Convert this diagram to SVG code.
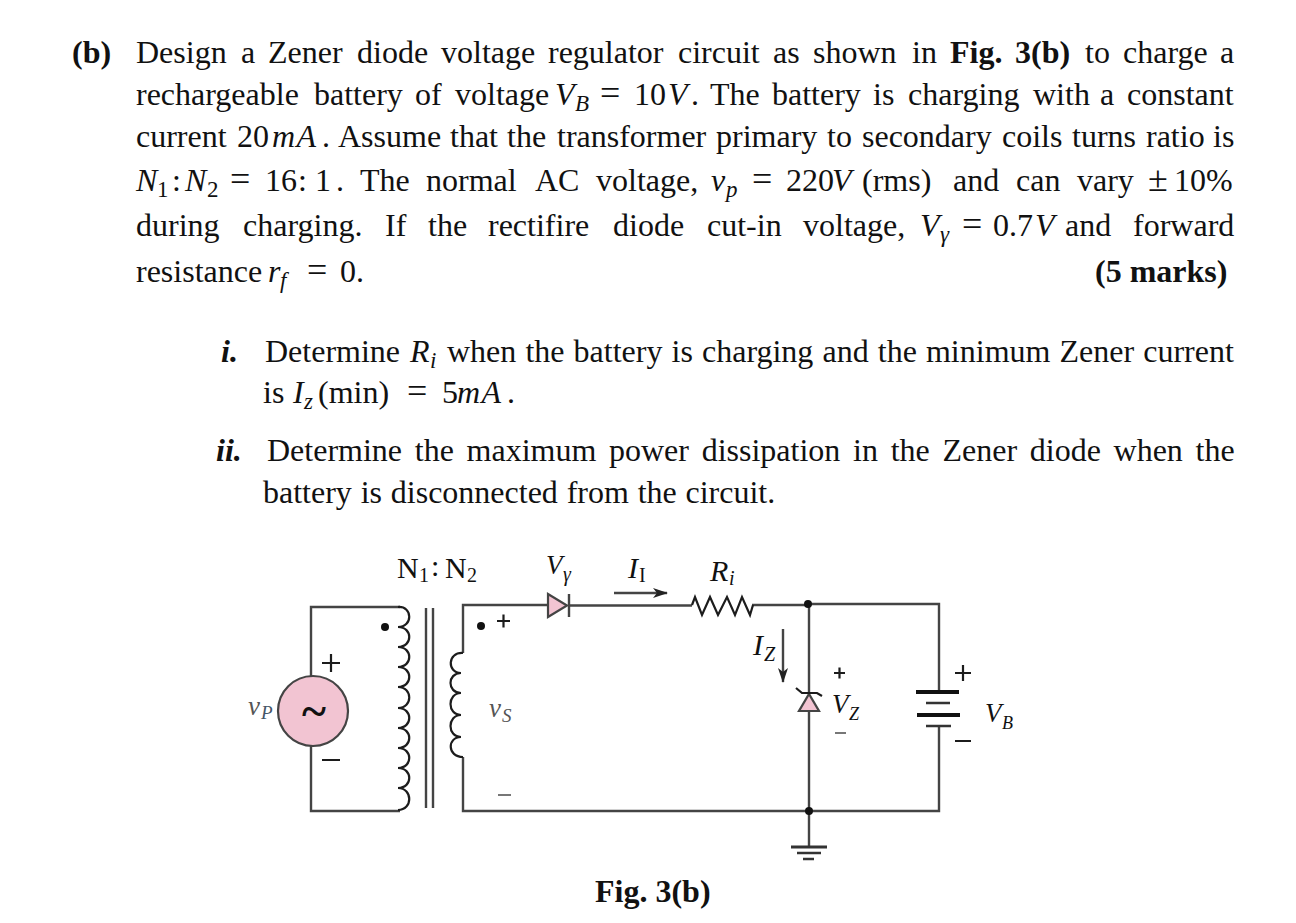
<svg xmlns="http://www.w3.org/2000/svg" width="1296" height="923" viewBox="0 0 1296 923">
<style>
text{font-family:"Liberation Serif","Times New Roman",serif;fill:#111}
.t{font-size:32px}
.b{font-weight:bold}
.i{font-style:italic}
.s{font-size:23px}
.l{font-size:30px}
.sm{font-size:20px}
.eq{font-size:36px}
.w{fill:none;stroke:#444;stroke-width:2.4}
.k{fill:none;stroke:#1c1c1c;stroke-width:2.2}
.p{fill:#f2c4d2;stroke:#444;stroke-width:2.2}
.d{fill:#111}
</style>
<defs>
<marker id="a" markerWidth="15" markerHeight="10" refX="14" refY="5" orient="auto" markerUnits="userSpaceOnUse"><path d="M0 0L15 5L0 10L4 5Z" fill="#222"/></marker>
</defs>
<rect width="1296" height="923" fill="#fff"/>
<g id="question" class="t">
<text y="63"><tspan x="72" class="b">(b)</tspan><tspan x="136">Design</tspan><tspan x="241">a</tspan><tspan x="268">Zener</tspan><tspan x="357">diode</tspan><tspan x="441">voltage</tspan><tspan x="548">regulator</tspan><tspan x="678">circuit</tspan><tspan x="773">as</tspan><tspan x="813">shown</tspan><tspan x="912">in</tspan><tspan x="950" class="b">Fig.</tspan><tspan x="1015" class="b">3(b)</tspan><tspan x="1085">to</tspan><tspan x="1123">charge</tspan><tspan x="1220">a</tspan></text>
<text y="105"><tspan x="136">rechargeable</tspan><tspan x="314">battery</tspan><tspan x="415">of</tspan><tspan x="455">voltage</tspan><tspan x="555" class="i">V</tspan><tspan x="575" y="111" class="s i">B</tspan><tspan x="600" y="105" class="eq">=</tspan><tspan x="634" y="105">10</tspan><tspan x="668" class="i">V</tspan><tspan x="691">.</tspan><tspan x="710">The</tspan><tspan x="772">battery</tspan><tspan x="873">is</tspan><tspan x="908">charging</tspan><tspan x="1033">with</tspan><tspan x="1100">a</tspan><tspan x="1127">constant</tspan></text>
<text y="147"><tspan x="136">current</tspan><tspan x="237">20</tspan><tspan x="272" class="i" letter-spacing="1.500">mA</tspan><tspan x="322">.</tspan><tspan x="338">Assume</tspan><tspan x="450">that</tspan><tspan x="507">the</tspan><tspan x="557">transformer</tspan><tspan x="716">primary</tspan><tspan x="827">to</tspan><tspan x="862">secondary</tspan><tspan x="1002">coils</tspan><tspan x="1072">turns</tspan><tspan x="1146">ratio</tspan><tspan x="1213">is</tspan></text>
<text y="191"><tspan x="136" class="i">N</tspan><tspan x="157" y="197" class="s">1</tspan><tspan x="172" y="191">:</tspan><tspan x="185" class="i">N</tspan><tspan x="207" y="197" class="s">2</tspan><tspan x="230" y="191" class="eq">=</tspan><tspan x="265" y="191">16</tspan><tspan x="298">:</tspan><tspan x="315">1</tspan><tspan x="336">.</tspan><tspan x="360">The</tspan><tspan x="426">normal</tspan><tspan x="535">AC</tspan><tspan x="596">voltage,</tspan><tspan x="711" class="i">v</tspan><tspan x="726" y="197" class="s i">p</tspan><tspan x="752" y="191" class="eq">=</tspan><tspan x="786" y="191">220</tspan><tspan x="832" class="i">V</tspan><tspan x="862">(rms)</tspan><tspan x="953">and</tspan><tspan x="1016">can</tspan><tspan x="1077">vary</tspan><tspan x="1148" class="eq">±</tspan><tspan x="1174" y="191">10%</tspan></text>
<text y="236"><tspan x="136">during</tspan><tspan x="243">charging.</tspan><tspan x="385">If</tspan><tspan x="428">the</tspan><tspan x="488">rectifire</tspan><tspan x="613">diode</tspan><tspan x="707">cut-in</tspan><tspan x="803">voltage,</tspan><tspan x="920" class="i">V</tspan><tspan x="940" y="242" class="s i">γ</tspan><tspan x="962" y="236" class="eq">=</tspan><tspan x="993" y="236">0.7</tspan><tspan x="1035" class="i">V</tspan><tspan x="1065">and</tspan><tspan x="1133">forward</tspan></text>
<text y="282"><tspan x="136">resistance</tspan><tspan x="268" class="i">r</tspan><tspan x="280" y="288" class="s i">f</tspan><tspan x="307" y="282" class="eq">=</tspan><tspan x="340" y="282">0.</tspan><tspan x="1095" class="b">(5 marks)</tspan></text>
<text y="362"><tspan x="221" class="b i">i.</tspan><tspan x="265">Determine</tspan><tspan x="410" class="i">R</tspan><tspan x="430" y="368" class="s i">i</tspan><tspan x="447" y="362" word-spacing="1.100">when the battery is charging and the minimum Zener current</tspan></text>
<text y="403"><tspan x="263">is</tspan><tspan x="293" class="i">I</tspan><tspan x="304" y="409" class="s i">z</tspan><tspan x="318" y="403">(min)</tspan><tspan x="407" class="eq">=</tspan><tspan x="442" y="403">5</tspan><tspan x="457" class="i" letter-spacing="1.500">mA</tspan><tspan x="507">.</tspan></text>
<text y="461"><tspan x="216" class="b i">ii.</tspan><tspan x="267" word-spacing="4.700">Determine the maximum power dissipation in the Zener diode when the</tspan></text>
<text x="263" y="503" word-spacing="0.800">battery is disconnected from the circuit.</text>
</g>
<g id="connectors">
<path class="w" d="M400 607H311V676M311 746V811H400"/>
<path class="w" d="M426 608V808M433 608V808" stroke-width="2"/>
<path class="w" d="M548 605H463V653M463 757V811H939V726M939 692V604H808M570 605.500H692M752 605H808M809 604V694M809 711V847"/>
<path class="k" d="M398 607C413 606 413 627 398 627C413 627 413 647 398 647C413 647 413 667 398 667C413 667 413 687 398 687C413 687 413 708 398 708C413 708 413 728 398 728C413 728 413 748 398 748C413 748 413 768 398 768C413 768 413 788 398 788C413 788 413 810 398 810"/>
<path class="k" d="M463 653C447 652 447 673 461 673C447 673 447 693 461 693C447 693 447 715 461 715C447 715 447 737 461 737C447 737 447 757 463 757"/>
<path class="k" d="M692 605L695 597L702 615L710 597L718 615L727 597L735 615L742 597L750 615L753 605"/>
<path class="w" d="M614 593H667" marker-end="url(#a)" stroke-width="1.800"/>
<path class="w" d="M783 629V682" marker-end="url(#a)" stroke-width="1.800"/>
</g>
<g id="source-vp"><circle class="p" cx="313" cy="711" r="35" stroke="#333"/>
<text x="314" y="727" text-anchor="middle" font-size="46" class="b">~</text>
<text y="715"><tspan x="248" class="i" font-size="27" style="fill:#555">v</tspan><tspan x="261" y="719" class="i" font-size="19" style="fill:#456">P</tspan></text>
<path class="k" d="M322 663H340M331 654V672M322 760H340" stroke="#333"/></g>
<g id="transformer-label"><text y="578" class="l"><tspan x="397">N</tspan><tspan x="419" y="582" class="sm">1</tspan><tspan x="431" y="576">:</tspan><tspan x="445" y="578">N</tspan><tspan x="467" y="582" class="sm">2</tspan></text>
<circle class="d" cx="385" cy="627" r="4"/><circle class="d" cx="481" cy="626" r="4"/></g>
<g id="secondary-vs"><path class="k" d="M497 621H510M503.500 614.500V627.500" stroke-width="1.800"/><path d="M498 795H511" stroke="#777" stroke-width="2"/>
<text y="717"><tspan x="489" class="i" font-size="27" style="fill:#555">v</tspan><tspan x="502" y="722" class="i" font-size="19" style="fill:#555">S</tspan></text></g>
<g id="diode"><path class="p" d="M548 594V617L567 605.500Z"/><path class="w" d="M569 594V617"/>
<text y="574"><tspan x="546" class="i" font-size="27">V</tspan><tspan x="563" y="581" class="sm i">γ</tspan></text></g>
<g id="current-i"><text y="578" class="l i"><tspan x="628">I</tspan><tspan x="639" y="582" class="sm" font-style="normal">I</tspan></text></g>
<g id="resistor"><text y="581" class="l i"><tspan x="710">R</tspan><tspan x="729" y="585" class="sm">i</tspan></text></g>
<g id="current-z"><text y="655" class="l i"><tspan x="753">I</tspan><tspan x="764" y="661" class="sm">Z</tspan></text></g>
<g id="zener"><path class="p" d="M799 711H819L809 694Z"/><path class="k" d="M796 688L802 693H817L822 696"/>
<circle class="d" cx="808" cy="604" r="4"/><circle class="d" cx="809" cy="811" r="4"/>
<path class="k" d="M834 673H845M839.500 667.500V678.500" stroke-width="1.800"/><path d="M835 733H846" stroke="#777" stroke-width="2"/>
<text y="713"><tspan x="832" class="i" font-size="27">V</tspan><tspan x="849" y="720" class="i" font-size="18">Z</tspan></text></g>
<g id="battery"><path d="M916 692H959M917 715H960" stroke="#111" stroke-width="4"/><path d="M926 703H950M926 726H951" stroke="#333" stroke-width="2.500"/>
<path class="k" d="M955 673H971M963 665V681M955 741H971" stroke-width="2.400"/>
<text y="722"><tspan x="985" class="i" font-size="27">V</tspan><tspan x="1002" y="729" class="i" font-size="18">B</tspan></text></g>
<g id="ground"><path d="M791 847H827" stroke="#333" stroke-width="3"/><path d="M797 853H821" stroke="#333" stroke-width="2.500"/><path d="M803 859H814" stroke="#333" stroke-width="2.500"/></g>
<g id="caption"><text x="595" y="902" class="t b">Fig. 3(b)</text></g>
</svg>
